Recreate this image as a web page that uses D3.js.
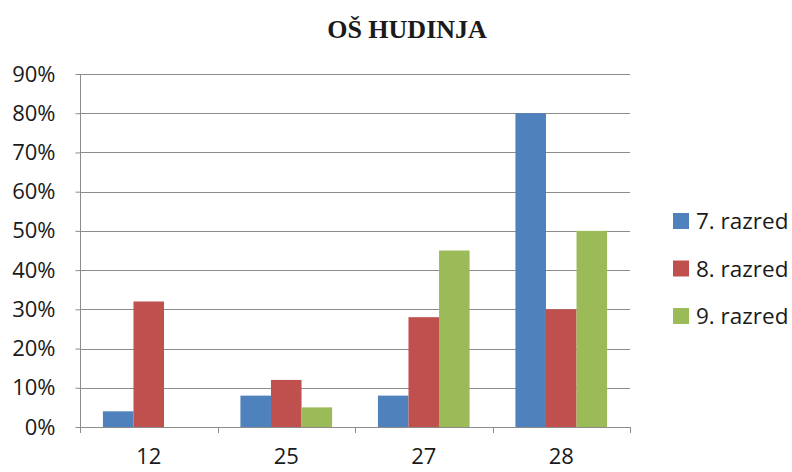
<!DOCTYPE html>
<html>
<head>
<meta charset="utf-8">
<script src="https://cdn.jsdelivr.net/npm/d3@7"></script>
<style>
  body { margin: 0; background: #fff; }
  svg text { font-family: "Open Sans", "Liberation Sans", Arial, sans-serif; fill: #1a1a1a; }
</style>
</head>
<body>
<svg id="board" width="792" height="472"></svg>
<script>
// chart data
let categories = ['12', '25', '27', '28']
let seriesNames = ['7. razred', '8. razred', '9. razred']
let razred7 = [0.04, 0.08, 0.08, 0.80]
let razred8 = [0.32, 0.12, 0.28, 0.30]
let razred9 = [0.00, 0.05, 0.45, 0.50]
let yTicks = [0, 0.1, 0.2, 0.3, 0.4, 0.5, 0.6, 0.7, 0.8, 0.9]
let colors = ['#4F81BD', '#C0504D', '#9BBB59']

let series = [razred7, razred8, razred9]

let board = d3.select('#board')

// plot area edges
let plotLeft = 80, plotRight = 630, plotTop = 74, plotBottom = 427

let x = d3.scaleBand().domain(categories).range([plotLeft, plotRight])
let inner = d3.scaleBand().domain(d3.range(series.length))
    .range([0, x.bandwidth()]).paddingOuter(0.75).paddingInner(0)
let y = d3.scaleLinear().domain([0, 0.9]).range([plotBottom, plotTop])

// gridlines
board.append('g')
    .selectAll('line')
    .data(yTicks.slice(1))
    .enter()
    .append('line')
    .attr('x1', plotLeft)
    .attr('x2', plotRight)
    .attr('y1', d => Math.round(y(d)) + 0.5)
    .attr('y2', d => Math.round(y(d)) + 0.5)
    .attr('stroke', '#8c8c8c')
    .attr('stroke-width', 1)

// bars
categories.forEach((cat, ci) => {
    board.append('g')
        .selectAll('rect')
        .data(series.map((s, si) => ({ si: si, v: s[ci] })))
        .enter()
        .append('rect')
        .attr('x', d => x(cat) + inner(d.si))
        .attr('width', inner.bandwidth())
        .attr('y', d => y(d.v))
        .attr('height', d => y(0) - y(d.v))
        .attr('fill', d => colors[d.si])
})

// y axis
let yAxis = board.append('g')
    .attr('transform', 'translate(' + (plotLeft + 0.5) + ',0)')
    .call(d3.axisLeft(y).tickValues(yTicks).tickFormat(d3.format('.0%')).tickSize(5).tickPadding(20))
yAxis.select('.domain').attr('stroke', '#8c8c8c').attr('d', 'M0,' + plotTop + 'V' + (plotBottom + 0.5))
yAxis.selectAll('.tick line').attr('stroke', '#8c8c8c')
yAxis.selectAll('.tick text').attr('font-size', 22).attr('font-family', null).attr('fill', '#1a1a1a')

// x axis
let xAxis = board.append('g')
    .attr('transform', 'translate(0,' + (plotBottom + 0.5) + ')')
    .call(d3.axisBottom(x).tickSize(0).tickPadding(21))
xAxis.select('.domain').attr('stroke', '#8c8c8c').attr('d', 'M' + plotLeft + ',0H' + plotRight)
xAxis.selectAll('.tick text').attr('font-size', 22).attr('font-family', null).attr('fill', '#1a1a1a')

// category boundary ticks
board.append('g')
    .selectAll('line')
    .data(categories.map(c => x(c)).concat([plotRight]))
    .enter()
    .append('line')
    .attr('x1', d => Math.round(d) + 0.5)
    .attr('x2', d => Math.round(d) + 0.5)
    .attr('y1', plotBottom)
    .attr('y2', plotBottom + 6)
    .attr('stroke', '#8c8c8c')

// title
board.append('text')
    .attr('x', 407)
    .attr('y', 38)
    .attr('text-anchor', 'middle')
    .style('font-family', '"Liberation Serif", "Times New Roman", serif')
    .style('font-weight', 'bold')
    .style('font-size', '26px')
    .text('OŠ HUDINJA')

// legend
let legend = board.append('g')
    .selectAll('g')
    .data(seriesNames)
    .enter()
    .append('g')
    .attr('transform', (d, i) => 'translate(673,' + (213 + i * 47.5) + ')')
legend.append('rect')
    .attr('width', 16)
    .attr('height', 16)
    .attr('fill', (d, i) => colors[i])
legend.append('text')
    .attr('x', 23)
    .attr('y', 8.5)
    .attr('dy', '0.35em')
    .attr('font-size', 22.5)
    .text(d => d)
</script>
</body>
</html>
